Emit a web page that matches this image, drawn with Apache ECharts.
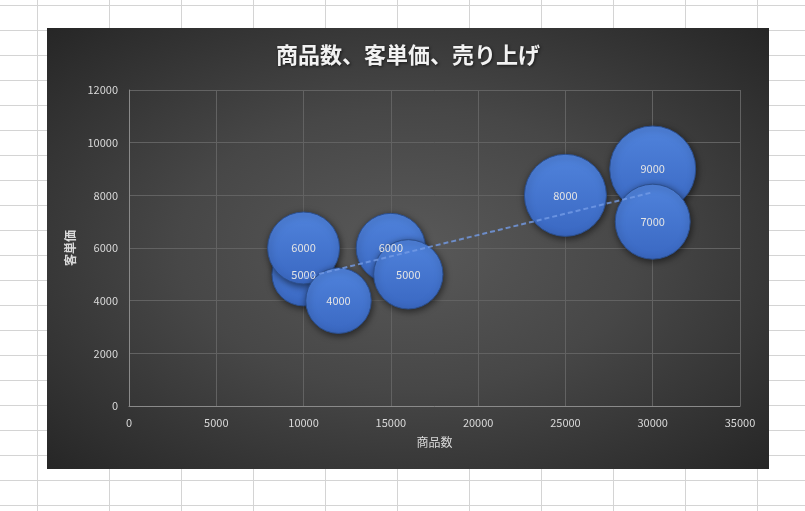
<!DOCTYPE html>
<html>
<head>
<meta charset="utf-8">
<script src="https://cdn.jsdelivr.net/npm/echarts@6/dist/echarts.min.js"></script>
<style>
  html, body { margin:0; padding:0; width:805px; height:511px; overflow:hidden; }
  body {
    background-color:#ffffff;
    background-image: linear-gradient(to right, #d4d4d4 1px, transparent 1px),
                      linear-gradient(to bottom, #d4d4d4 1px, transparent 1px);
    background-size: 72px 25px;
    background-position: 37px 5px;
  }
  #chart {
    position:absolute; left:47px; top:28px; width:722px; height:441px;
    background: radial-gradient(ellipse farthest-corner at 50% 50%, #595959 0%, #474747 45%, #262626 100%);
  }
</style>
</head>
<body>
<div id="chart"></div>
<script>
// 商品数 (x), 客単価 (y), 売り上げ (bubble size)
const itemCounts = [10000, 10000, 12000, 15000, 16000, 25000, 30000, 30000];
const unitPrices = [5000, 6000, 4000, 6000, 5000, 8000, 9000, 7000];
const sales      = [540, 700, 580, 650, 650, 910, 1000, 760];
const titleText = '商品数、客単価、売り上げ';
const xName = '商品数';
const yName = '客単価';

const maxSale = Math.max(...sales);
const points = itemCounts.map((x, i) => [x, unitPrices[i], sales[i]]);

// linear trendline (least squares) of 客単価 on 商品数
const n = itemCounts.length;
const mx = itemCounts.reduce((a, b) => a + b, 0) / n;
const my = unitPrices.reduce((a, b) => a + b, 0) / n;
let sxy = 0, sxx = 0;
for (let i = 0; i < n; i++) {
  sxy += (itemCounts[i] - mx) * (unitPrices[i] - my);
  sxx += (itemCounts[i] - mx) * (itemCounts[i] - mx);
}
const slope = sxy / sxx;
const icpt = my - slope * mx;
const xMin = Math.min(...itemCounts), xMax = Math.max(...itemCounts);
const trend = [[xMin, icpt + slope * xMin], [xMax, icpt + slope * xMax]];

const font = '"Noto Sans CJK JP", "Noto Sans", sans-serif';
const chart = echarts.init(document.getElementById('chart'), null, { renderer: 'canvas' });
chart.setOption({
  backgroundColor: 'transparent',
  animation: false,
  title: {
    text: titleText,
    left: 'center',
    top: 11,
    textStyle: {
      color: '#f2f2f2', fontSize: 22, fontWeight: 'bold', fontFamily: font,
      textShadowColor: 'rgba(0,0,0,0.6)', textShadowBlur: 3, textShadowOffsetX: 1, textShadowOffsetY: 1
    }
  },
  grid: { left: 82, top: 62, right: 29, bottom: 63 },
  xAxis: {
    type: 'value', min: 0, max: 35000, interval: 5000,
    name: xName, nameLocation: 'middle', nameGap: 30,
    nameTextStyle: { color: '#d9d9d9', fontSize: 12, fontFamily: font },
    axisLine: { show: true, lineStyle: { color: '#8a8a8a', width: 1 } },
    axisTick: { show: false },
    axisLabel: { color: '#d9d9d9', fontSize: 11, fontFamily: font, margin: 11, formatter: v => String(v) },
    splitLine: { show: true, lineStyle: { color: '#626262', width: 1 } }
  },
  yAxis: {
    type: 'value', min: 0, max: 12000, interval: 2000,
    name: yName, nameLocation: 'middle', nameGap: 50,
    nameTextStyle: { color: '#d9d9d9', fontSize: 12, fontWeight: 'bold', fontFamily: font },
    axisLine: { show: true, lineStyle: { color: '#8a8a8a', width: 1 } },
    axisTick: { show: false },
    axisLabel: { color: '#d9d9d9', fontSize: 11, fontFamily: font, margin: 11, formatter: v => String(v) },
    splitLine: { show: true, lineStyle: { color: '#626262', width: 1 } }
  },
  series: [
    {
      type: 'scatter',
      data: points,
      symbolSize: d => 86 * Math.sqrt(d[2] / maxSale),
      itemStyle: {
        color: new echarts.graphic.LinearGradient(0, 0, 0, 1, [
          { offset: 0, color: '#5083dc' },
          { offset: 1, color: '#3a68c2' }
        ]),
        borderColor: '#2c4f8e', borderWidth: 1,
        shadowColor: 'rgba(0,0,0,0.55)', shadowBlur: 7, shadowOffsetX: 1, shadowOffsetY: 2,
        opacity: 1
      },
      label: {
        show: true, position: 'inside',
        formatter: p => String(p.value[1]),
        color: '#e4e4e4', fontSize: 11, fontFamily: font
      },
      z: 2
    },
    {
      type: 'line',
      data: trend,
      symbol: 'none',
      silent: true,
      lineStyle: { color: 'rgba(115,155,230,0.8)', width: 2, type: [5, 3] },
      z: 3
    }
  ]
});
</script>
</body>
</html>
